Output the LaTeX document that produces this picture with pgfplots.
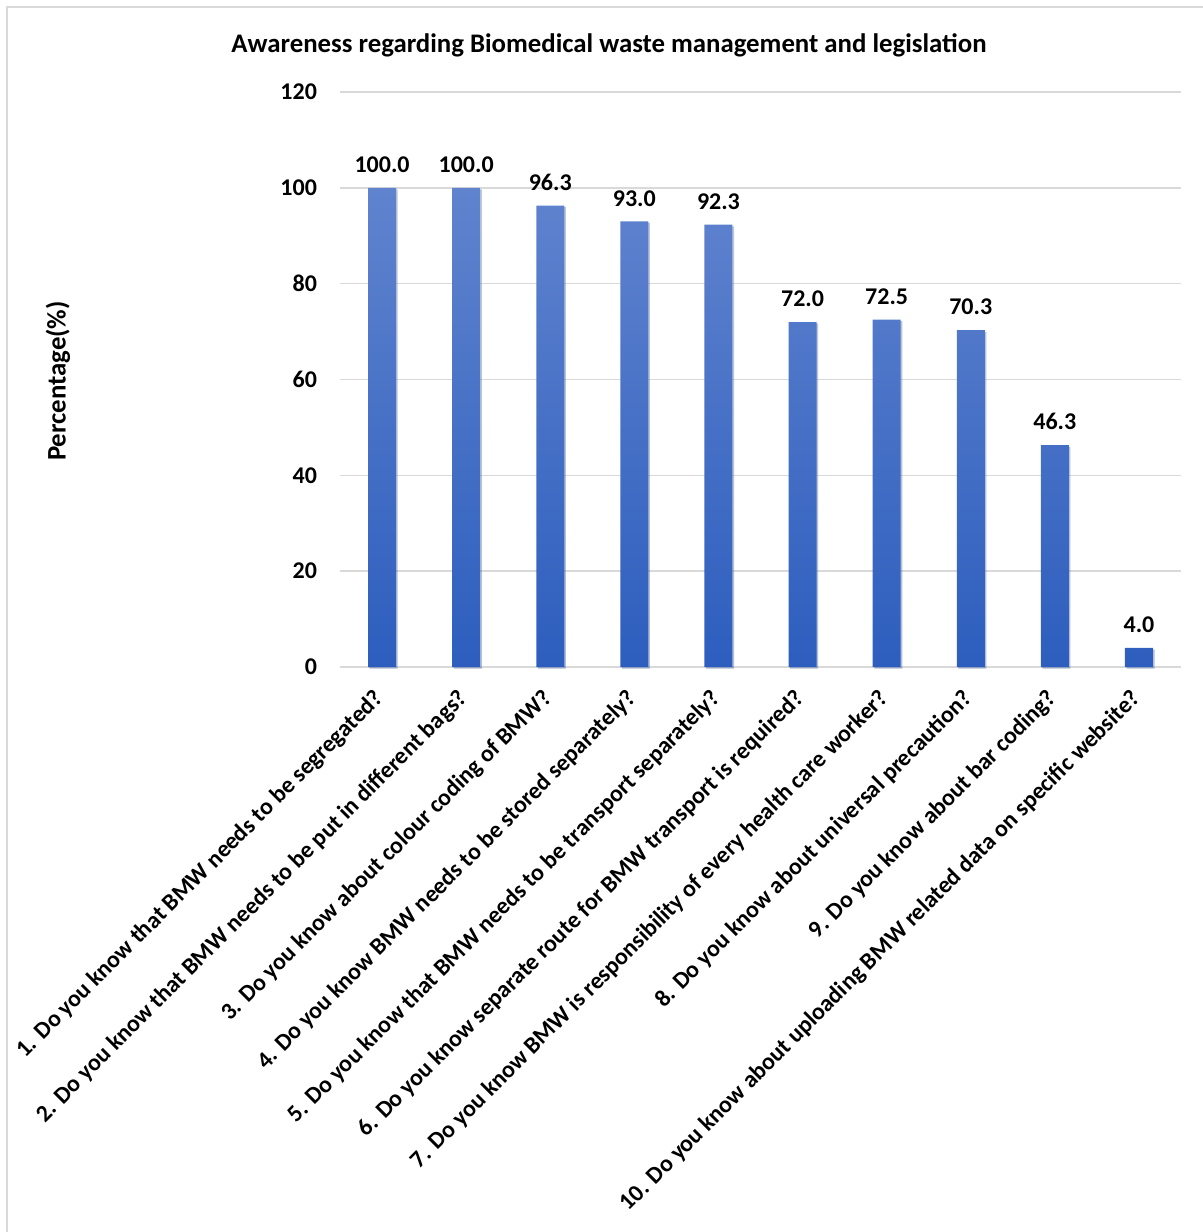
\documentclass[border=0pt]{standalone}
\usepackage{fontspec}
\setmainfont{Carlito}
\usepackage{pgfplots}
\pgfplotsset{compat=1.18}
\usetikzlibrary{shadows}
\definecolor{barTop}{RGB}{96,131,206}
\definecolor{barBot}{RGB}{45,94,190}
\definecolor{gridc}{RGB}{217,217,217}
\begin{document}
\begin{tikzpicture}
\useasboundingbox (0pt,0pt) rectangle (601.5pt,-616pt);
\draw[gridc, line width=1pt] (3.5pt,-700pt) -- (3.5pt,-3.5pt) -- (700pt,-3.5pt);
\node[font=\bfseries\fontsize{13.4}{15}\selectfont] at (304.5pt,-22.5pt) {Awareness regarding Biomedical waste management and legislation};
\node[font=\bfseries\fontsize{13.4}{15}\selectfont, rotate=90] at (29pt,-190.5pt) {Percentage(\%)};
\begin{axis}[
  at={(170pt,-333.5pt)}, anchor=south west,
  width=420.5pt, height=287.5pt, scale only axis,
  xmin=-0.5, xmax=9.5, ymin=0, ymax=120, enlargelimits=false,
  ytick={0,20,...,120},
  xtick={0,...,9},
  xticklabels={
    {1. Do you know that BMW needs to be segregated?},
    {2. Do you know that BMW needs to be put in different bags?},
    {3. Do you know about colour coding of BMW?},
    {4. Do you know BMW needs to be stored separately?},
    {5. Do you know that BMW needs to be transport separately?},
    {6. Do you know separate route for BMW transport is required?},
    {7. Do you know BMW is responsibility of every health care worker?},
    {8. Do you know about universal precaution?},
    {9. Do you know about bar coding?},
    {10. Do you know about uploading BMW related data on specific website?}},
  axis line style={draw=none},
  ymajorgrids, grid style={gridc, line width=0.75pt},
  major tick length=0pt,
  tick label style={font=\bfseries\fontsize{12}{14}\selectfont},
  /pgf/number format/assume math mode=true,
  yticklabel style={xshift=-8pt},
  xticklabel style={xshift=1.5pt, rotate=45, anchor=east, font=\bfseries\fontsize{11.9}{14}\selectfont},
  xticklabel shift=11.5pt,
  clip=false,
  nodes near coords={\pgfmathprintnumber[fixed,fixed zerofill,precision=1]{\pgfplotspointmeta}},
  nodes near coords style={font=\bfseries\fontsize{12}{14}\selectfont, black, yshift=4pt},
]
\addplot[ybar, bar width=14pt, draw=none, top color=barTop, bottom color=barBot,
  drop shadow={shadow xshift=0.8pt, shadow yshift=-0.8pt, opacity=0.25}]
  coordinates {(0,100.0)(1,100.0)(2,96.3)(3,93.0)(4,92.3)(5,72.0)(6,72.5)(7,70.3)(8,46.3)(9,4.0)};
\end{axis}
\end{tikzpicture}
\end{document}
